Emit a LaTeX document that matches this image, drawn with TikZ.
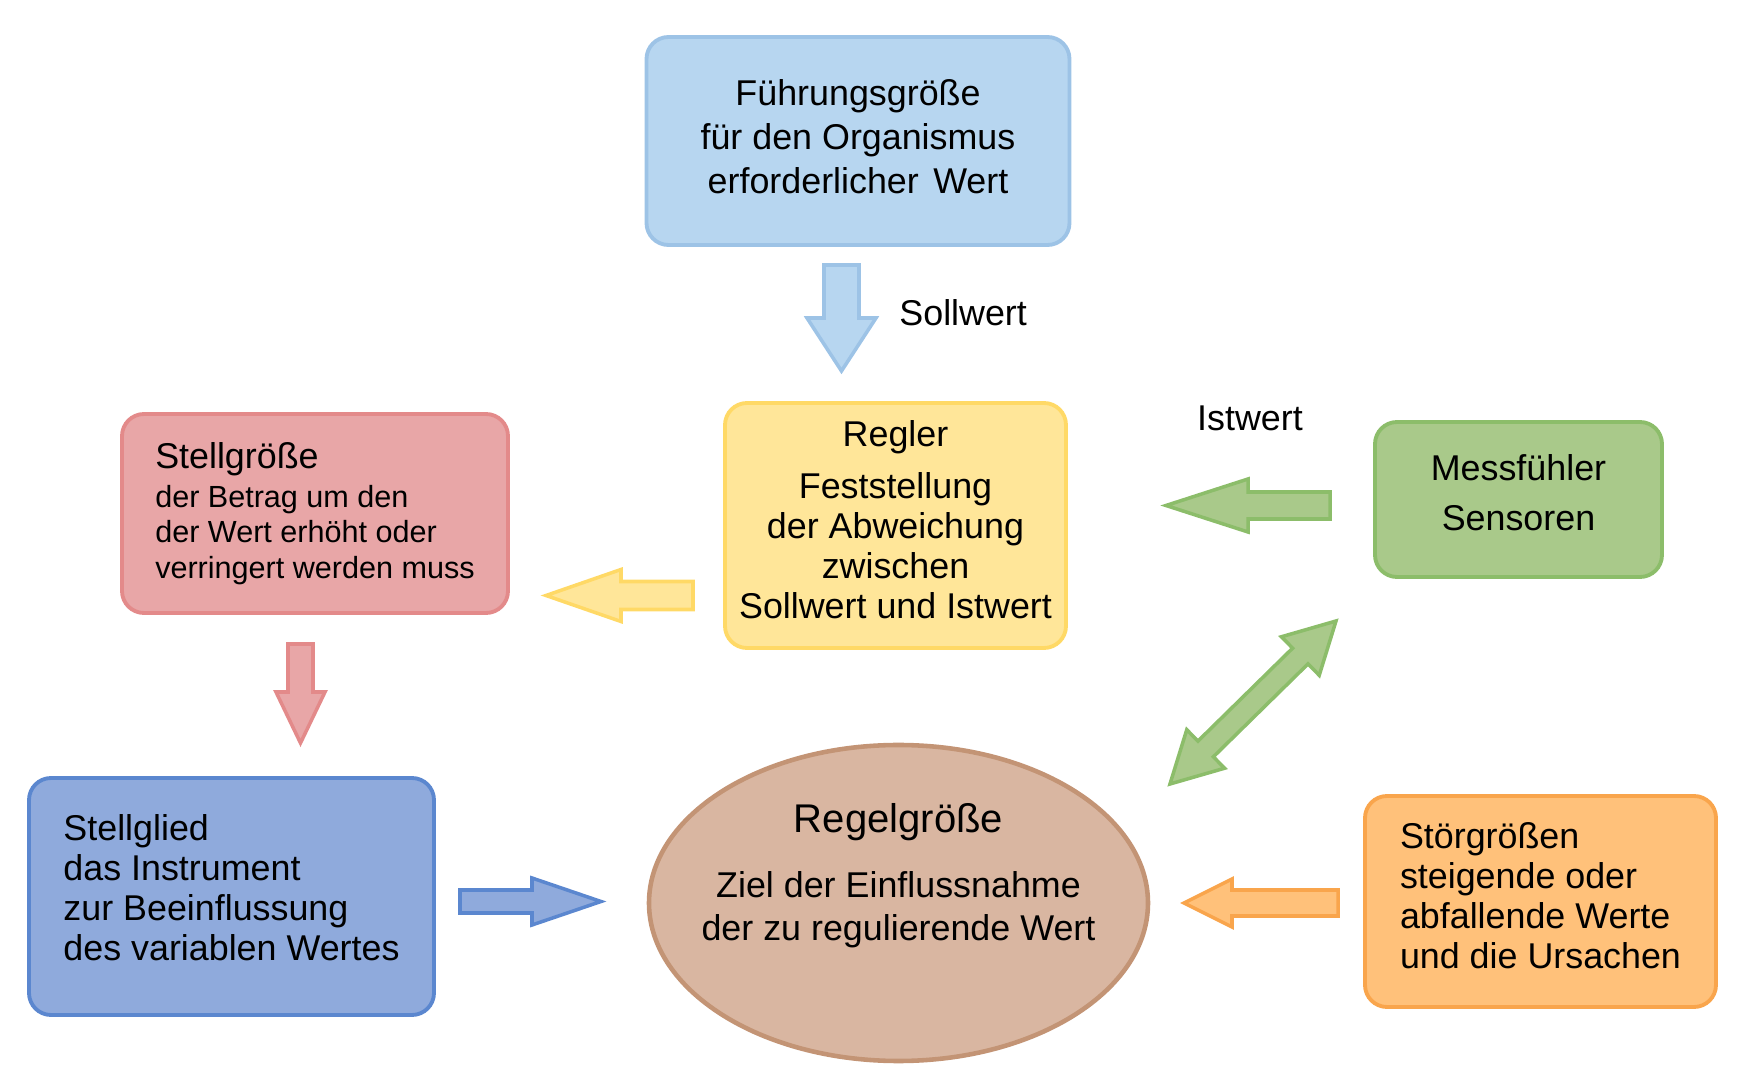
\documentclass[tikz,border=0pt]{standalone}
\usepackage{fontspec}
\setmainfont{Liberation Sans}
\usepackage{tikz}
\usetikzlibrary{shapes,arrows,positioning,calc}

\definecolor{fuehrfill}{HTML}{B7D6F0}
\definecolor{fuehrline}{HTML}{9DC3E6}
\definecolor{reglfill}{HTML}{FFE699}
\definecolor{reglline}{HTML}{FFD966}
\definecolor{stellfill}{HTML}{E8A6A7}
\definecolor{stellline}{HTML}{E38A8A}
\definecolor{messfill}{HTML}{A9C98A}
\definecolor{messline}{HTML}{8CBD6A}
\definecolor{gliedfill}{HTML}{8FAADC}
\definecolor{gliedline}{HTML}{5B87CF}
\definecolor{regelfill}{HTML}{D9B6A1}
\definecolor{regelline}{HTML}{C39475}
\definecolor{stoerfill}{HTML}{FFC17A}
\definecolor{stoerline}{HTML}{F9A54C}

\tikzset{
  box/.style={rectangle, rounded corners=0.22cm, line width=1.1pt, inner sep=0pt},
  txt/.style={font=\fontsize{10.2}{11.4}\selectfont},
}

% fat arrow: style, tail, tip, shaft half width, head half width, head length
\newcommand{\fatarrow}[6]{%
  \coordinate (fa-head) at ($(#3)!#6!(#2)$);
  \filldraw[line width=1pt, line join=miter, #1] ($(#2)!#4!90:(#3)$) -- ($(fa-head)!#4!90:(#3)$) -- ($(fa-head)!#5!90:(#3)$) -- (#3) -- ($(fa-head)!#5!-90:(#3)$) -- ($(fa-head)!#4!-90:(#3)$) -- ($(#2)!#4!-90:(#3)$) -- cycle;}

% fat arrow with two heads
\newcommand{\dblarrow}[6]{%
  \coordinate (da-h1) at ($(#2)!#6!(#3)$);
  \coordinate (da-h2) at ($(#3)!#6!(#2)$);
  \filldraw[line width=1pt, line join=miter, #1] (#2) -- ($(da-h1)!#5!90:(#3)$) -- ($(da-h1)!#4!90:(#3)$) -- ($(da-h2)!#4!90:(#3)$) -- ($(da-h2)!#5!90:(#3)$) -- (#3) -- ($(da-h2)!#5!-90:(#3)$) -- ($(da-h2)!#4!-90:(#3)$) -- ($(da-h1)!#4!-90:(#3)$) -- ($(da-h1)!#5!-90:(#3)$) -- cycle;}

\begin{document}
\begin{tikzpicture}
    \useasboundingbox (0,0) rectangle (17.51,-10.80);

    % Fuehrungsgroesse
    \node[box, fill=fuehrfill, draw=fuehrline, minimum width=4.23cm, minimum height=2.08cm,
          align=center, font=\fontsize{10.2}{12.5}\selectfont, text depth=2.6pt] (fuehr) at (8.58,-1.41)
          {Führungsgröße\\für den Organismus\\erforderlicher\hspace{4.1pt}Wert};

    % Regler
    \node[box, txt, fill=reglfill, draw=reglline, minimum width=3.41cm, minimum height=2.45cm,
          align=center, text depth=3.2pt] (regler) at (8.955,-5.255)
          {Regler\\[1.2mm]Feststellung\\der Abweichung\\zwischen\\Sollwert und Istwert};

    % Messfuehler
    \node[box, fill=messfill, draw=messline, minimum width=2.87cm, minimum height=1.55cm,
          align=center, font=\fontsize{10.2}{14.2}\selectfont, text depth=3.8pt] (mess) at (15.185,-4.995)
          {Messfühler\\Sensoren};

    % Stellgroesse
    \node[box, fill=stellfill, draw=stellline, minimum width=3.86cm, minimum height=1.99cm,
          align=left, font=\fontsize{8.7}{10.1}\selectfont] (stell) at (3.15,-5.135)
          {{\fontsize{10.2}{12}\selectfont Stellgröße}\\[0.3mm]der Betrag um den\\der Wert erhöht oder\\verringert werden muss};

    % Stellglied
    \node[box, txt, fill=gliedfill, draw=gliedline, minimum width=4.05cm, minimum height=2.37cm,
          align=left, text depth=5.1pt] (glied) at (2.315,-8.965)
          {Stellglied\\das Instrument\\zur Beeinflussung\\des variablen Wertes};

    % Regelgroesse
    \node[ellipse, fill=regelfill, draw=regelline, line width=1.3pt, minimum width=4.99cm,
          minimum height=3.16cm, inner sep=0pt] (regel) at (8.985,-9.03) {};
    \node[align=center, font=\fontsize{10.2}{12.2}\selectfont] (regeltext) at ([yshift=0.27cm]regel.center)
          {{\fontsize{11.4}{13}\selectfont Regelgröße}\\[2.2mm]Ziel der Einflussnahme\\der zu regulierende Wert};

    % Stoergroessen
    \node[box, txt, fill=stoerfill, draw=stoerline, minimum width=3.51cm, minimum height=2.11cm,
          align=left, text depth=3.2pt] (stoer) at (15.405,-9.015)
          {Störgrößen\\steigende oder\\abfallende Werte\\und die Ursachen};

    % labels
    \node[txt, anchor=west] (sollwert) at (8.87,-3.13) {Sollwert};
    \node[txt] (istwert) at (12.50,-4.18) {Istwert};

    % arrows
    \coordinate (sollA) at (8.415,-2.65);
    \coordinate (sollB) at (8.415,-3.71);
    \fatarrow{fill=fuehrfill, draw=fuehrline}{sollA}{sollB}{0.175cm}{0.345cm}{0.53cm}

    \coordinate (reglA) at (6.93,-5.955);
    \coordinate (reglB) at (5.46,-5.955);
    \fatarrow{fill=reglfill, draw=reglline}{reglA}{reglB}{0.14cm}{0.26cm}{0.75cm}

    \coordinate (istA) at (13.30,-5.055);
    \coordinate (istB) at (11.66,-5.055);
    \fatarrow{fill=messfill, draw=messline}{istA}{istB}{0.135cm}{0.265cm}{0.82cm}

    \coordinate (stellA) at (3.005,-6.44);
    \coordinate (stellB) at (3.005,-7.43);
    \fatarrow{fill=stellfill, draw=stellline}{stellA}{stellB}{0.125cm}{0.245cm}{0.51cm}

    \coordinate (gliedA) at (4.60,-9.015);
    \coordinate (gliedB) at (6.01,-9.015);
    \fatarrow{fill=gliedfill, draw=gliedline}{gliedA}{gliedB}{0.115cm}{0.235cm}{0.69cm}

    \coordinate (stoerA) at (13.38,-9.03);
    \coordinate (stoerB) at (11.84,-9.03);
    \fatarrow{fill=stoerfill, draw=stoerline}{stoerA}{stoerB}{0.13cm}{0.24cm}{0.48cm}

    \coordinate (messA) at (11.70,-7.84);
    \coordinate (messB) at (13.36,-6.21);
    \dblarrow{fill=messfill, draw=messline}{messA}{messB}{0.11cm}{0.27cm}{0.5cm}
\end{tikzpicture}
\end{document}
